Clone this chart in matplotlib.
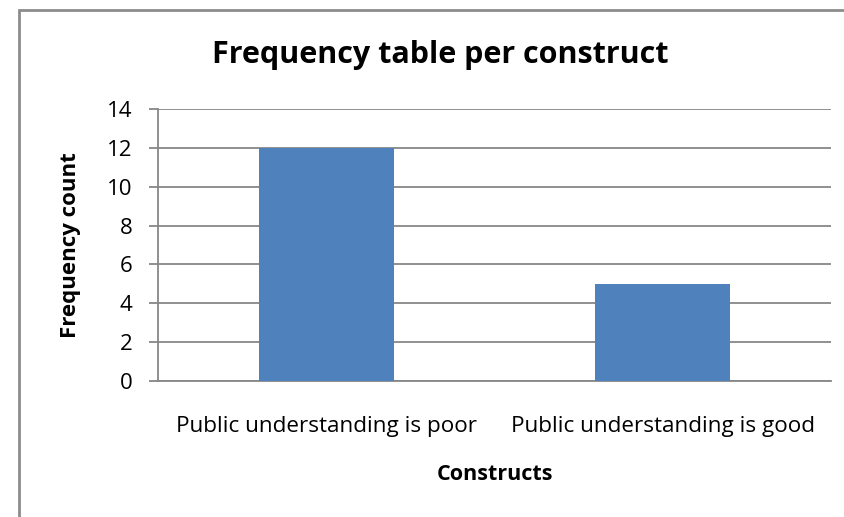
import matplotlib
matplotlib.use('Agg')
import matplotlib.pyplot as plt
from matplotlib.patches import Rectangle

# Frequency per construct
constructs = ['Public understanding is poor', 'Public understanding is good']
counts = [12, 5]
y_ticks = [0, 2, 4, 6, 8, 10, 12, 14]

plt.rcParams['font.family'] = ['Open Sans', 'DejaVu Sans']

GRID = '#878787'
BAR = '#4F81BD'

W, H = 844, 517
fig = plt.figure(figsize=(W / 100, H / 100), dpi=100)
ax = fig.add_axes([158 / W, 1 - 381 / H, (831 - 158) / W, (381 - 109) / H])

x = list(range(len(constructs)))
ax.bar(x, counts, width=0.4, color=BAR, zorder=3)

ax.set_xlim(-0.5, len(constructs) - 0.5)
ax.set_ylim(0, 14)
ax.set_yticks(y_ticks)
ax.set_xticks(x)
ax.set_xticklabels(constructs, fontsize=16.2)
ax.tick_params(axis='y', labelsize=16, length=6.5, width=1.3, color=GRID,
               direction='out', pad=12)
ax.tick_params(axis='x', length=0, pad=25)
ax.yaxis.grid(True, color=GRID, linewidth=1.3, zorder=0)

for side in ['top', 'right']:
    ax.spines[side].set_visible(False)
for side in ['left', 'bottom']:
    ax.spines[side].set_color(GRID)
    ax.spines[side].set_linewidth(1.3)

ax.set_ylabel('Frequency count', fontsize=16, fontweight='bold')
ax.yaxis.set_label_coords((71 - 158) / (831 - 158), 0.5)
ax.yaxis.label.set_va('center')
ax.set_xlabel('Constructs', fontsize=15.5, fontweight='bold')
ax.xaxis.set_label_coords(0.5, -(475 - 381) / (381 - 109))
ax.xaxis.label.set_va('center')

fig.text(440 / W, 1 - 63 / H, 'Frequency table per construct',
         ha='center', va='baseline', fontsize=22, fontweight='bold')

# chart area frame
fig.patches.append(Rectangle((19 / W, -0.1), 1.2, 1 - 10 / H + 0.1,
                             transform=fig.transFigure, fill=False,
                             edgecolor='#8C8C8C', linewidth=2))

fig.savefig('out.png', dpi=100)
